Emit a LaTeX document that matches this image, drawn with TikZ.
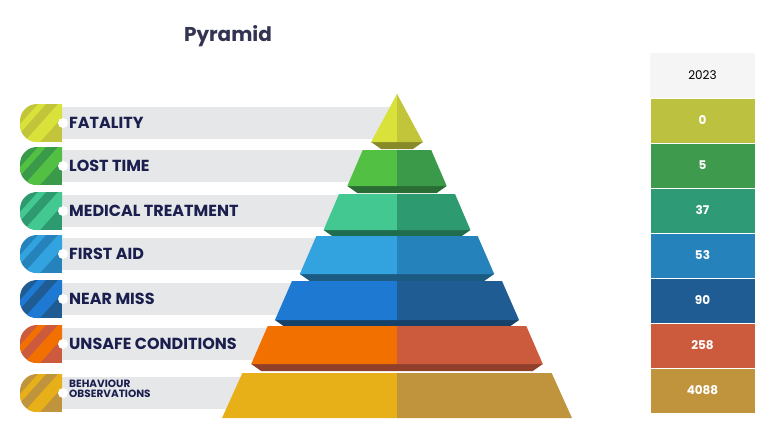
\documentclass[tikz,border=0pt]{standalone}
\usepackage{fontspec}
\setmainfont{Poppins}
\newfontfamily\labfont{Poppins}
\begin{document}
\begin{tikzpicture}[x=1pt,y=-1pt,
  lab/.style={anchor=west,font=\labfont\bfseries\fontsize{16}{16}\selectfont,text=navy,inner sep=0},
  cell/.style={minimum width=105pt,minimum height=45pt,inner sep=0,text=white,font=\bfseries\fontsize{12}{12}\selectfont,draw=white,line width=0.6pt}]
\definecolor{navy}{HTML}{1A1F4E}
\definecolor{barg}{HTML}{E6E7E9}
\useasboundingbox (0,0) rectangle (779,447);
\fill[white] (0,0) rectangle (779,447);
\node[font=\bfseries\fontsize{20}{20}\selectfont,text=black!80!blue!60!gray] (title) at (228,36) {Pyramid};
\foreach \i/\cy/\la/\da/\tb/\val/\yt/\yb in {
 1/123/D9E23A/C2C43A/BCC23F/0/94/142,
 2/166/52C043/3A9A4A/3E9A4C/5/150/186,
 3/211/43C891/2E9A70/2E9A76/37/194/230,
 4/254/33A3E0/2682BA/2682BA/53/236/274,
 5/299/1E79D2/1F5C94/1F5C94/90/281/320,
 6/344/F27000/CC5A3C/CC5A3C/258/326/364,
 7/393/E8B018/C0943C/C0943C/4088/373/418}{
  \definecolor{L\i}{HTML}{\la}\definecolor{D\i}{HTML}{\da}\definecolor{T\i}{HTML}{\tb}
  \fill[barg] (60,\cy-16) rectangle (400,\cy+16);
  \begin{scope}
   \clip (62,\cy-19) -- (62,\cy+19) [rounded corners=17pt]-- (20,\cy+19) -- (20,\cy-19) [sharp corners]-- cycle;
   \fill[D\i] (20,\cy-19) rectangle (62,\cy+19);
   \fill[L\i] (24,\cy+19) -- (40,\cy+19) -- (74,\cy-19) -- (58,\cy-19) -- cycle;
   \fill[L\i] (4,\cy+19) -- (12,\cy+19) -- (46,\cy-19) -- (38,\cy-19) -- cycle;
  \end{scope}
  \fill[white] (63,\cy) circle (5);
  \pgfmathsetmacro\wt{0.54*(\yt-94)+(\i>1?4:0)}
  \pgfmathsetmacro\wb{0.54*(\yb-94)}
  \ifnum\i<7
  \fill[D\i!70!black] (397-\wb,\yb) -- (397+\wb,\yb) -- (397+\wb-10,\yb+7) -- (397-\wb+10,\yb+7) -- cycle;
  \fi
  \fill[L\i] (397-\wt,\yt) -- (397,\yt) -- (397,\yb) -- (397-\wb,\yb) -- cycle;
  \fill[D\i] (397,\yt) -- (397+\wt,\yt) -- (397+\wb,\yb) -- (397,\yb) -- cycle;
  \node[cell,fill=T\i] (t\i) at (702.5,75.5+45*\i) {\val};
}
\node[lab] (l1) at (69,123) {FATALITY};
\node[lab] (l2) at (69,166) {LOST TIME};
\node[lab] (l3) at (69,211) {MEDICAL TREATMENT};
\node[lab] (l4) at (69,254) {FIRST AID};
\node[lab] (l5) at (69,299) {NEAR MISS};
\node[lab] (l6) at (69,344) {UNSAFE CONDITIONS};
\node[lab,font=\labfont\bfseries\fontsize{10.5}{10}\selectfont,align=left] (l7) at (69,389) {BEHAVIOUR\\OBSERVATIONS};
\node[cell,fill=gray!8,text=black,font=\fontsize{12}{12}\selectfont,draw=none] (hd) at (702.5,75.5) {2023};
\end{tikzpicture}
\end{document}
